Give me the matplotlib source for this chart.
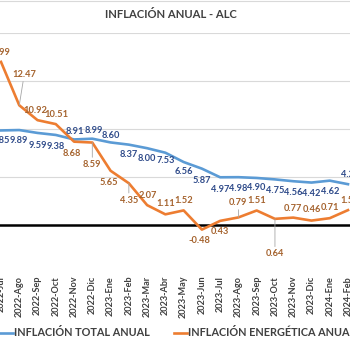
import matplotlib
matplotlib.use('Agg')
import matplotlib.pyplot as plt
from matplotlib.lines import Line2D

plt.rcParams['font.family'] = ['Lato', 'DejaVu Sans']

# data
months = ['2022-Jul', '2022-Ago', '2022-Sep', '2022-Oct', '2022-Nov', '2022-Dic',
          '2023-Ene', '2023-Feb', '2023-Mar', '2023-Abr', '2023-May', '2023-Jun',
          '2023-Jul', '2023-Ago', '2023-Sep', '2023-Oct', '2023-Nov', '2023-Dic',
          '2024-Ene', '2024-Feb']
total = [9.85, 9.89, 9.59, 9.38, 8.91, 8.99, 8.60, 8.37, 8.00, 7.53, 6.56, 5.87,
         4.97, 4.98, 4.90, 4.75, 4.56, 4.42, 4.62, 4.25]
energia = [16.99, 12.47, 10.92, 10.51, 8.68, 8.59, 5.65, 4.35, 2.07, 1.11, 1.52, -0.48,
           0.43, 0.79, 1.51, 0.64, 0.77, 0.46, 0.71, 1.55]

# label offsets in pixels (dx, dy), layout only
total_off = [(0, -10), (0, -10), (0, -13), (0, -12), (1, 8), (1, 8), (0, 7),
             (0, -10), (0, -10), (0, -8), (0, -9), (0, -12), (0, -12), (0, -11),
             (0, -10), (0, -11), (0, -11), (0, -11), (0, -11), (2, 10)]
energia_off = [(-3, 9), (5, 31), (-2, 10), (1, 10), (-2, -12), (0, -22), (-2, -12),
               (0, -17), (1, 10), (0, 11), (0, 10), (-2, -11), (0, -11), (0, 15),
               (0, 10), (0, -35), (0, 9), (0, 11), (0, 11), (2, 10)]

BLUE = '#5B9BD5'
ORANGE = '#ED7D31'
BLUE_TXT = '#2F4B8A'
ORANGE_TXT = '#A5632E'
GREY_TXT = '#404040'

fig = plt.figure(figsize=(3.5, 3.5), dpi=100)
ax = fig.add_axes([0, 1 - 273 / 350, 1, 240 / 350])

x = list(range(len(months)))
span = 19 * 350 / 347
x0 = -span / 350
ax.set_xlim(x0, x0 + span)
ax.set_ylim(-5, 20)

for v in [5, 10, 15, 20]:
    ax.axhline(v, color='#D9D9D9', lw=0.8, zorder=0)
ax.axhline(0, color='black', lw=1.8, zorder=1)

ax.plot(x, total, color=BLUE, lw=1.9, zorder=3)
ax.plot(x, energia, color=ORANGE, lw=1.9, zorder=3)

for i, v in enumerate(total):
    dx, dy = total_off[i]
    ax.annotate(f'{v:.2f}', (i, v), xytext=(dx, dy), textcoords='offset pixels',
                ha='center', va='center', fontsize=6.7, fontweight='bold',
                color=BLUE_TXT, zorder=4, annotation_clip=False)

for i, v in enumerate(energia):
    dx, dy = energia_off[i]
    arrow = None
    if abs(dy) > 14:
        arrow = dict(arrowstyle='-', color='#A6A6A6', lw=0.6, shrinkA=0, shrinkB=0)
    ax.annotate(f'{v:.2f}', (i, v), xytext=(dx, dy), textcoords='offset pixels',
                ha='center', va='center', fontsize=6.7, fontweight='bold',
                color=ORANGE_TXT, zorder=4, arrowprops=arrow, annotation_clip=False)

ax.set_yticks([])
ax.set_xticks(x)
ax.set_xticklabels(months, rotation=90, fontsize=6.6, fontweight='bold', color=GREY_TXT)
ax.tick_params(axis='x', length=0, pad=2)
for s in ax.spines.values():
    s.set_visible(False)

# title and outer border
fig.text(171 / 350, 1 - 15 / 350, 'INFLACIÓN ANUAL - ALC', ha='center', va='center',
         fontsize=8.1, fontweight='bold', color=GREY_TXT)
fig.add_artist(Line2D([0, 1], [1 - 1 / 350, 1 - 1 / 350], color='#D9D9D9', lw=0.8))

# legend drawn by hand so it can run off the right edge
ly = 1 - 333 / 350
fig.add_artist(Line2D([0, 13 / 350], [ly, ly], color=BLUE, lw=1.9))
fig.text(14 / 350, ly, 'INFLACIÓN TOTAL ANUAL', ha='left', va='center',
         fontsize=7.8, fontweight='bold', color=GREY_TXT)
fig.add_artist(Line2D([174 / 350, 187 / 350], [ly, ly], color=ORANGE, lw=1.9))
fig.text(188 / 350, ly, 'INFLACIÓN ENERGÉTICA ANUAL', ha='left', va='center',
         fontsize=7.8, fontweight='bold', color=GREY_TXT)

fig.savefig('out.png', dpi=100)
